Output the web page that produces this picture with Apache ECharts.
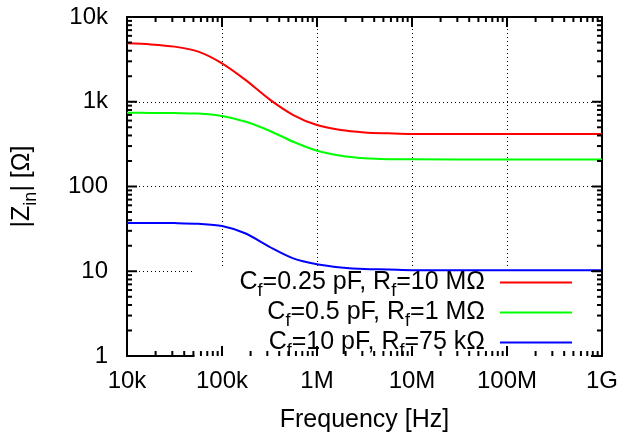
<!DOCTYPE html>
<html><head><meta charset="utf-8">
<script src="https://cdn.jsdelivr.net/npm/echarts@6/dist/echarts.min.js"></script>
<style>html,body{margin:0;padding:0;background:#fff}#c{width:618px;height:434px}</style>
</head><body><div id="c"></div>
<script>
// ---- data ----
const freqs = [10000, 17783, 31623, 56234, 100000, 177828, 316228, 562341, 1000000, 1778279, 3162278, 5623413, 10000000, 100000000, 1000000000];
const zRed   = [4890, 4750, 4470, 3900, 2840, 1800, 1066, 697, 531, 463, 435, 424, 416, 415, 415];
const zGreen = [741, 738, 735, 725, 678, 581, 455, 337, 264, 231, 216, 210, 209, 208, 208];
const zBlue  = [37.2, 37.2, 37.0, 36.3, 34.1, 27.9, 19.4, 14.2, 12.1, 11.1, 10.6, 10.5, 10.3, 10.3, 10.3];
const seriesNames = ['C_f=0.25 pF, R_f=10 MΩ', 'C_f=0.5 pF, R_f=1 MΩ', 'C_f=10 pF, R_f=75 kΩ'];
const seriesColors = ['#ff0000', '#00ff00', '#0000ff'];
const xMajorTicks = [1e4, 1e5, 1e6, 1e7, 1e8, 1e9];
const xTickLabels = ['10k', '100k', '1M', '10M', '100M', '1G'];
const xMinorTicks = [2e4,3e4,4e4,5e4,6e4,7e4,8e4,9e4, 2e5,3e5,4e5,5e5,6e5,7e5,8e5,9e5, 2e6,3e6,4e6,5e6,6e6,7e6,8e6,9e6, 2e7,3e7,4e7,5e7,6e7,7e7,8e7,9e7, 2e8,3e8,4e8,5e8,6e8,7e8,8e8,9e8];
const yMajorTicks = [1, 10, 100, 1000, 10000];
const yTickLabels = ['1', '10', '100', '1k', '10k'];
const yMinorTicks = [2,3,4,5,6,7,8,9, 20,30,40,50,60,70,80,90, 200,300,400,500,600,700,800,900, 2000,3000,4000,5000,6000,7000,8000,9000];
const xTitle = 'Frequency [Hz]';
const yTitle = '|Z_in| [Ω]';

// ---- helpers ----
const FF = 'Liberation Sans, Arial, Helvetica, sans-serif';
const X_MIN = 1e4, X_MAX = 1e9, Y_MIN = 1, Y_MAX = 1e4;
const black = '#000';
function toRich(t) {
  return t.split(/_(\w+)/).map((p, i) => p === '' ? '' : (i % 2 ? '{s|' + p + '}' : '{n|' + p + '}')).join('');
}
const richStyles = {
  n: { fontSize: 25, lineHeight: 25, fontFamily: FF, color: black },
  s: { fontSize: 18, lineHeight: 25, verticalAlign: 'top', padding: [12, 0, 0, 0], fontFamily: FF, color: black },
  g: { width: 10 }
};
const seriesData = [zRed, zGreen, zBlue].map(arr => freqs.map((f, i) => [f, arr[i]]));

function axisDef(pos, isX, labels, extra) {
  return Object.assign({
    type: 'log', logBase: 10, position: pos,
    min: isX ? X_MIN : Y_MIN, max: isX ? X_MAX : Y_MAX,
    axisLine: { show: true, onZero: false, lineStyle: { color: black, width: 2 } },
    axisTick: { show: false },
    axisLabel: labels ? {
      show: true, color: black, fontSize: 24, fontFamily: FF,
      margin: isX ? 13 : 19, showMinLabel: true, showMaxLabel: true,
      formatter: v => (isX ? xTickLabels[Math.round(Math.log10(v)) - 4] : yTickLabels[Math.round(Math.log10(v))])
    } : { show: false },
    splitLine: { show: labels, lineStyle: { color: black, width: 1, type: [1, 3] } },
    minorTick: { show: false }, minorSplitLine: { show: false }
  }, extra || {});
}
// ticks (mirrored on both sides) drawn through the axes' own scales
function tickSeries(values, isX, len) {
  const data = [];
  values.forEach(v => { data.push(isX ? [v, 10, 0] : [1e6, v, 0]); data.push(isX ? [v, 10, 1] : [1e6, v, 1]); });
  return {
    type: 'custom', xAxisIndex: 0, yAxisIndex: 0, z: 4, clip: false, silent: true,
    data,
    renderItem: (params, api) => {
      const v = api.value(isX ? 0 : 1);
      const far = api.value(2) === 1;
      const p = isX ? api.coord([v, far ? Y_MAX : Y_MIN]) : api.coord([far ? X_MAX : X_MIN, v]);
      const d = far ? len : -len;
      const shape = isX ? { x1: p[0], y1: p[1], x2: p[0], y2: p[1] + d }
                        : { x1: p[0], y1: p[1], x2: p[0] - d, y2: p[1] };
      return { type: 'line', shape, style: { stroke: black, lineWidth: 2 } };
    }
  };
}

const chart = echarts.init(document.getElementById('c'));
chart.setOption({
  animation: false,
  backgroundColor: '#fff',
  grid: { left: 127, right: 16, top: 17, bottom: 78, containLabel: false, outerBoundsMode: 'none' },
  xAxis: [
    axisDef('bottom', true, true, {
      name: xTitle, nameLocation: 'middle', nameGap: 52,
      nameTextStyle: { color: black, fontSize: 25, fontFamily: FF }
    }),
    axisDef('top', true, false)
  ],
  yAxis: [
    axisDef('left', false, true, {
      name: toRich(yTitle), nameLocation: 'middle', nameGap: 92, nameRotate: 90,
      nameTextStyle: { rich: richStyles }
    }),
    axisDef('right', false, false)
  ],
  legend: {
    orient: 'vertical', right: 27, top: 266, align: 'right', icon: 'rect',
    itemWidth: 72, itemHeight: 2, itemGap: 0, selectedMode: false,
    padding: [4, 19, 0, 45], backgroundColor: '#fff', z: 1,
    data: seriesNames,
    formatter: n => toRich(n) + '{g|}',
    textStyle: { rich: richStyles }
  },
  series: seriesNames.map((name, i) => ({
    name, type: 'line', xAxisIndex: 0, yAxisIndex: 0,
    data: seriesData[i], showSymbol: false, smooth: 0.3,
    lineStyle: { color: seriesColors[i], width: 2 }, itemStyle: { color: seriesColors[i] },
    z: 3
  })).concat([
    tickSeries(xMajorTicks, true, 10), tickSeries(xMinorTicks, true, 5),
    tickSeries(yMajorTicks, false, 10), tickSeries(yMinorTicks, false, 5)
  ])
});
</script></body></html>
